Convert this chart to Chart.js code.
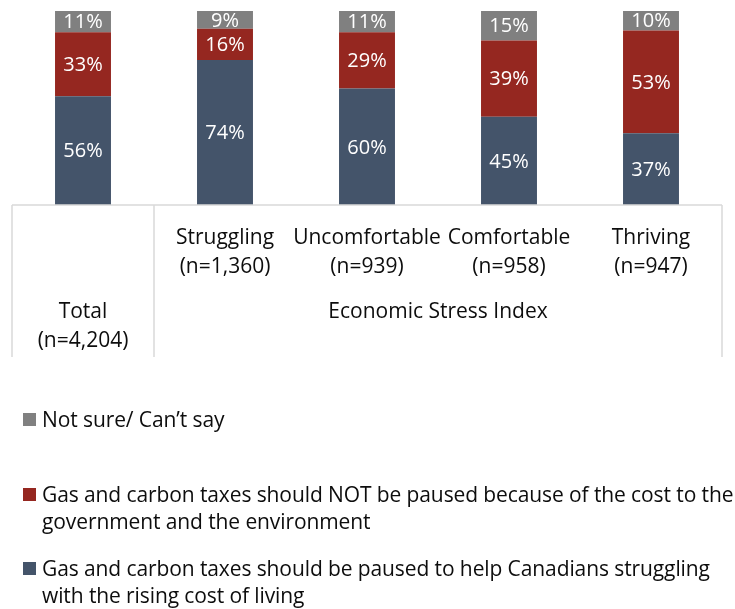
<!DOCTYPE html>
<html>
<head>
<meta charset="utf-8">
<script src="https://cdn.jsdelivr.net/npm/chart.js@4.4.0/dist/chart.umd.min.js"></script>
<style>
  body { margin: 0; background: #fff; }
  #wrap { position: relative; width: 735px; height: 609px; overflow: hidden; }
  #legend { position: absolute; left: 0; top: 0; width: 735px; font-family: "Open Sans", sans-serif; font-size: 21px; letter-spacing: -0.1px; color: #0d0d0d; }
  .item { position: absolute; left: 23px; white-space: nowrap; line-height: 27px; }
  .swatch { position: absolute; left: 0; top: 7px; width: 13px; height: 13px; }
  .text { position: absolute; left: 19px; top: 0; }
</style>
</head>
<body>
<div id="wrap">
  <canvas id="chart" width="735" height="609"></canvas>
  <div id="legend"></div>
</div>
<script>
const categories = ['Total', 'Struggling', 'Uncomfortable', 'Comfortable', 'Thriving'];
const sampleSizes = ['(n=4,204)', '(n=1,360)', '(n=939)', '(n=958)', '(n=947)'];
const groupLabel = 'Economic Stress Index';

const pausedValues = [56, 74, 60, 45, 37];
const notPausedValues = [33, 16, 29, 39, 53];
const notSureValues = [11, 9, 11, 15, 10];

const seriesNames = [
    'Gas and carbon taxes should be paused to help Canadians struggling with the rising cost of living',
    'Gas and carbon taxes should NOT be paused because of the cost to the government and the environment',
    'Not sure/ Can\u2019t say'
];
// where the legend text breaks, as in the original
const legendLines = [
    ['Gas and carbon taxes should be paused to help Canadians struggling', 'with the rising cost of living'],
    ['Gas and carbon taxes should NOT be paused because of the cost to the', 'government and the environment'],
    ['Not sure/ Can\u2019t say']
];
const seriesColors = ['#44546A', '#952720', '#808080'];

const FONT = '"Open Sans", sans-serif';

// 100% stacked: each bar is scaled to its own total
const totals = categories.map((c, i) => pausedValues[i] + notPausedValues[i] + notSureValues[i]);
const share = arr => arr.map((v, i) => v / totals[i] * 100);
const rawValues = [pausedValues, notPausedValues, notSureValues];

const labelPlugin = {
    id: 'segmentLabels',
    afterDatasetsDraw(chart) {
        const ctx = chart.ctx;
        ctx.save();
        ctx.fillStyle = '#fff';
        ctx.font = '20px ' + FONT;
        ctx.textAlign = 'center';
        ctx.textBaseline = 'middle';
        chart.data.datasets.forEach((ds, d) => {
            chart.getDatasetMeta(d).data.forEach((bar, i) => {
                const mid = (bar.y + bar.base) / 2;
                ctx.fillText(rawValues[d][i] + '%', bar.x, mid + 1);
            });
        });
        ctx.restore();
    }
};

const axisPlugin = {
    id: 'groupedAxis',
    afterDraw(chart) {
        const ctx = chart.ctx;
        const x = chart.scales.x;
        const area = chart.chartArea;
        const bottom = 357;
        const half = (x.getPixelForValue(1) - x.getPixelForValue(0)) / 2;
        const split = x.getPixelForValue(0) + half;
        ctx.save();
        ctx.strokeStyle = '#d9d9d9';
        ctx.lineWidth = 1.5;
        ctx.beginPath();
        ctx.moveTo(area.left, area.bottom);
        ctx.lineTo(area.right, area.bottom);
        [area.left, split, area.right].forEach(px => {
            ctx.moveTo(px, area.bottom);
            ctx.lineTo(px, bottom);
        });
        ctx.stroke();

        ctx.fillStyle = '#0d0d0d';
        ctx.font = '21px ' + FONT;
        ctx.textAlign = 'center';
        ctx.textBaseline = 'middle';
        categories.forEach((c, i) => {
            const px = x.getPixelForValue(i);
            if (i === 0) {
                ctx.fillText(c, px, 312);
                ctx.fillText(sampleSizes[i], px, 341);
            } else {
                ctx.fillText(c, px, 238);
                ctx.fillText(sampleSizes[i], px, 267);
            }
        });
        ctx.fillText(groupLabel, (split + area.right) / 2, 312);
        ctx.restore();
    }
};

new Chart(document.getElementById('chart'), {
    type: 'bar',
    data: {
        labels: categories,
        datasets: [
            { label: seriesNames[0], data: share(pausedValues), backgroundColor: seriesColors[0] },
            { label: seriesNames[1], data: share(notPausedValues), backgroundColor: seriesColors[1] },
            { label: seriesNames[2], data: share(notSureValues), backgroundColor: seriesColors[2] }
        ]
    },
    options: {
        responsive: false,
        animation: false,
        layout: { padding: { left: 12, right: 13, top: 11, bottom: 404 } },
        datasets: { bar: { categoryPercentage: 1, barPercentage: 0.394, borderWidth: 0 } },
        scales: {
            x: { stacked: true, display: false },
            y: { stacked: true, display: false, min: 0, max: 100 }
        },
        plugins: { legend: { display: false }, tooltip: { enabled: false } }
    },
    plugins: [labelPlugin, axisPlugin]
});

// legend, drawn in reverse order like the original
const legendTops = [555, 481, 406];
const legend = document.getElementById('legend');
[2, 1, 0].forEach(d => {
    const item = document.createElement('div');
    item.className = 'item';
    item.style.top = legendTops[d] + 'px';
    const sw = document.createElement('div');
    sw.className = 'swatch';
    sw.style.background = seriesColors[d];
    const txt = document.createElement('div');
    txt.className = 'text';
    txt.innerHTML = legendLines[d].join('<br>');
    item.appendChild(sw);
    item.appendChild(txt);
    legend.appendChild(item);
});
</script>
</body>
</html>
